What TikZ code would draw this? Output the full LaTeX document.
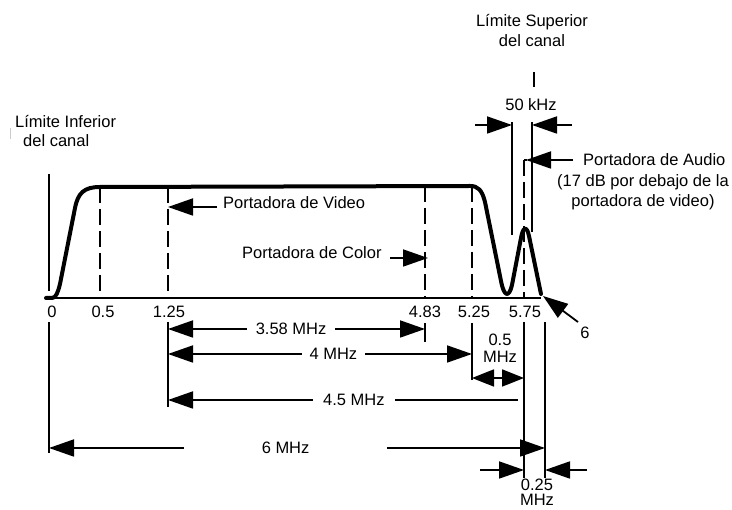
\documentclass[tikz,border=0pt]{standalone}
\usepackage{fontspec}
\setmainfont{Liberation Sans}
\usetikzlibrary{arrows.meta}

\begin{document}
\begin{tikzpicture}[x=1pt, y=-1pt,
			texto/.style={font=\fontsize{16.5}{20}\selectfont, inner sep=0pt},
			curva/.style={line width=4pt, line join=round, line cap=round},
			eje/.style={line width=2.2pt},
			linea/.style={line width=1.8pt},
			guia/.style={line width=2.2pt, dash pattern=on 16pt off 6pt},
			flecha/.style={-{Triangle[length=25pt, width=17pt]}, line width=1.8pt},
			cota/.style={{Triangle[length=25pt, width=17pt]}-{Triangle[length=25pt, width=17pt]}, line width=1.8pt},
			hueco/.style={texto, fill=white, minimum height=14pt}
			]
			\useasboundingbox (0,0) rectangle (732,510);
			% frecuencias sobre el eje
			\coordinate (f0) at (49,298);
			\coordinate (f05) at (100,298);
			\coordinate (f125) at (168,298);
			\coordinate (f483) at (425,298);
			\coordinate (f525) at (472,298);
			\coordinate (f575) at (524,298);
			\coordinate (f6) at (545,298);
			\draw[eje] (45,298) -- (541,298);
			% respuesta del canal
			\draw[curva] (46,298) -- (52,298) .. controls (56,298) and (58,292) .. (60,284) -- (75,208)
				.. controls (78,193) and (84,187) .. (100,187) -- (470,186)
				.. controls (478,186) and (482,190) .. (485,202) -- (501,281)
				.. controls (504,297) and (509,298) .. (512,285) -- (521,238)
				.. controls (523,226) and (527,226) .. (529,236) -- (541,294);
			% portadoras
			\draw[guia] (100,187) -- (f05);
			\draw[guia] (168,187) -- (f125);
			\draw[guia] (425,186) -- (f483);
			\draw[guia] (472,186) -- (f525);
			\draw[linea] (527,160) -- (524,160);
			\draw[guia] (524,160) -- (f575);
			% valores del eje
			\node[texto] (l0) at (52,312) {0};
			\node[texto] (l05) at (103,312) {0.5};
			\node[texto] (l125) at (169,312) {1.25};
			\node[texto] (l483) at (425,312) {4.83};
			\node[texto] (l525) at (474,312) {5.25};
			\node[texto] (l575) at (525,312) {5.75};
			\node[texto] (l6) at (585,333) {6};
			\coordinate (fin) at (543,296);
			\draw[flecha] (578,322) -- (fin);
			% limites del canal
			\node[texto, anchor=west] (inf1) at (15,122) {Límite Inferior};
			\node[texto, anchor=west] (inf2) at (23,141) {del canal};
			\draw[gray!40, line width=1pt] (10,128) -- (10,139);
			\draw[linea] (49,174) -- (49,291);
			\node[texto, align=center] (sup) at (532,31) {Límite Superior\\del canal};
			\draw[line width=2.4pt] (534,72) -- (534,87);
			% 50 kHz
			\node[texto] (k50) at (531,105) {50 kHz};
			\coordinate (b1) at (512,125);
			\coordinate (b2) at (532,125);
			\draw[linea] (512,122) -- (512,235);
			\draw[linea] (532,122) -- (532,232);
			\draw[flecha] (475,125) -- (b1);
			\draw[flecha] (572,125) -- (b2);
			% etiquetas de portadoras
			\node[texto, anchor=west] (video) at (223,203) {Portadora de Video};
			\draw[flecha] (217,207) -- (168,207);
			\node[texto, anchor=west] (color) at (242,253) {Portadora de Color};
			\draw[flecha] (390,258) -- (428,258);
			\node[texto, anchor=west] (audio) at (583,160) {Portadora de Audio};
			\draw[flecha] (573,160) -- (526,160);
			\node[texto, align=center] (nota) at (643,192) {(17 dB por debajo de la\\portadora de video)};
			% lineas de referencia bajo el eje
			\draw[linea] (49,322) -- (49,453);
			\draw[linea] (168,322) -- (168,407);
			\draw[linea] (425,323) -- (425,342);
			\draw[linea] (472,323) -- (472,380);
			\draw[linea] (524,322) -- (524,478);
			\draw[linea] (545,322) -- (545,478);
			% cotas
			\draw[cota] (f125 |- 0,329) -- node[hueco, pos=0.479, minimum width=88pt] (c358) {3.58 MHz} (f483 |- 0,329);
			\draw[cota] (f125 |- 0,354) -- node[hueco, pos=0.544, minimum width=63pt] (c4) {4 MHz} (f525 |- 0,354);
			\draw[flecha, {Triangle[length=25pt, width=17pt]}-] (f125 |- 0,400) -- node[hueco, pos=0.531, minimum width=82pt] (c45) {4.5 MHz} (518,400);
			\draw[cota] (f0 |- 0,448) -- node[hueco, pos=0.477, minimum width=203pt] (c6) {6 MHz} (f6 |- 0,448);
			\draw[line width=1.8pt, {Triangle[length=22pt, width=17pt]}-{Triangle[length=22pt, width=17pt]}] (f525 |- 0,378) -- (f575 |- 0,378);
			\node[texto, align=center, font=\fontsize{16.5}{17}\selectfont] (c05) at (500,348) {0.5\\MHz};
			\draw[flecha] (480,470) -- (f575 |- 0,470);
			\draw[flecha] (587,470) -- (f6 |- 0,470);
			\node[texto, align=center, font=\fontsize{16.5}{15}\selectfont] (c025) at (537,492) {0.25\\MHz};
		\end{tikzpicture}
\end{document}
